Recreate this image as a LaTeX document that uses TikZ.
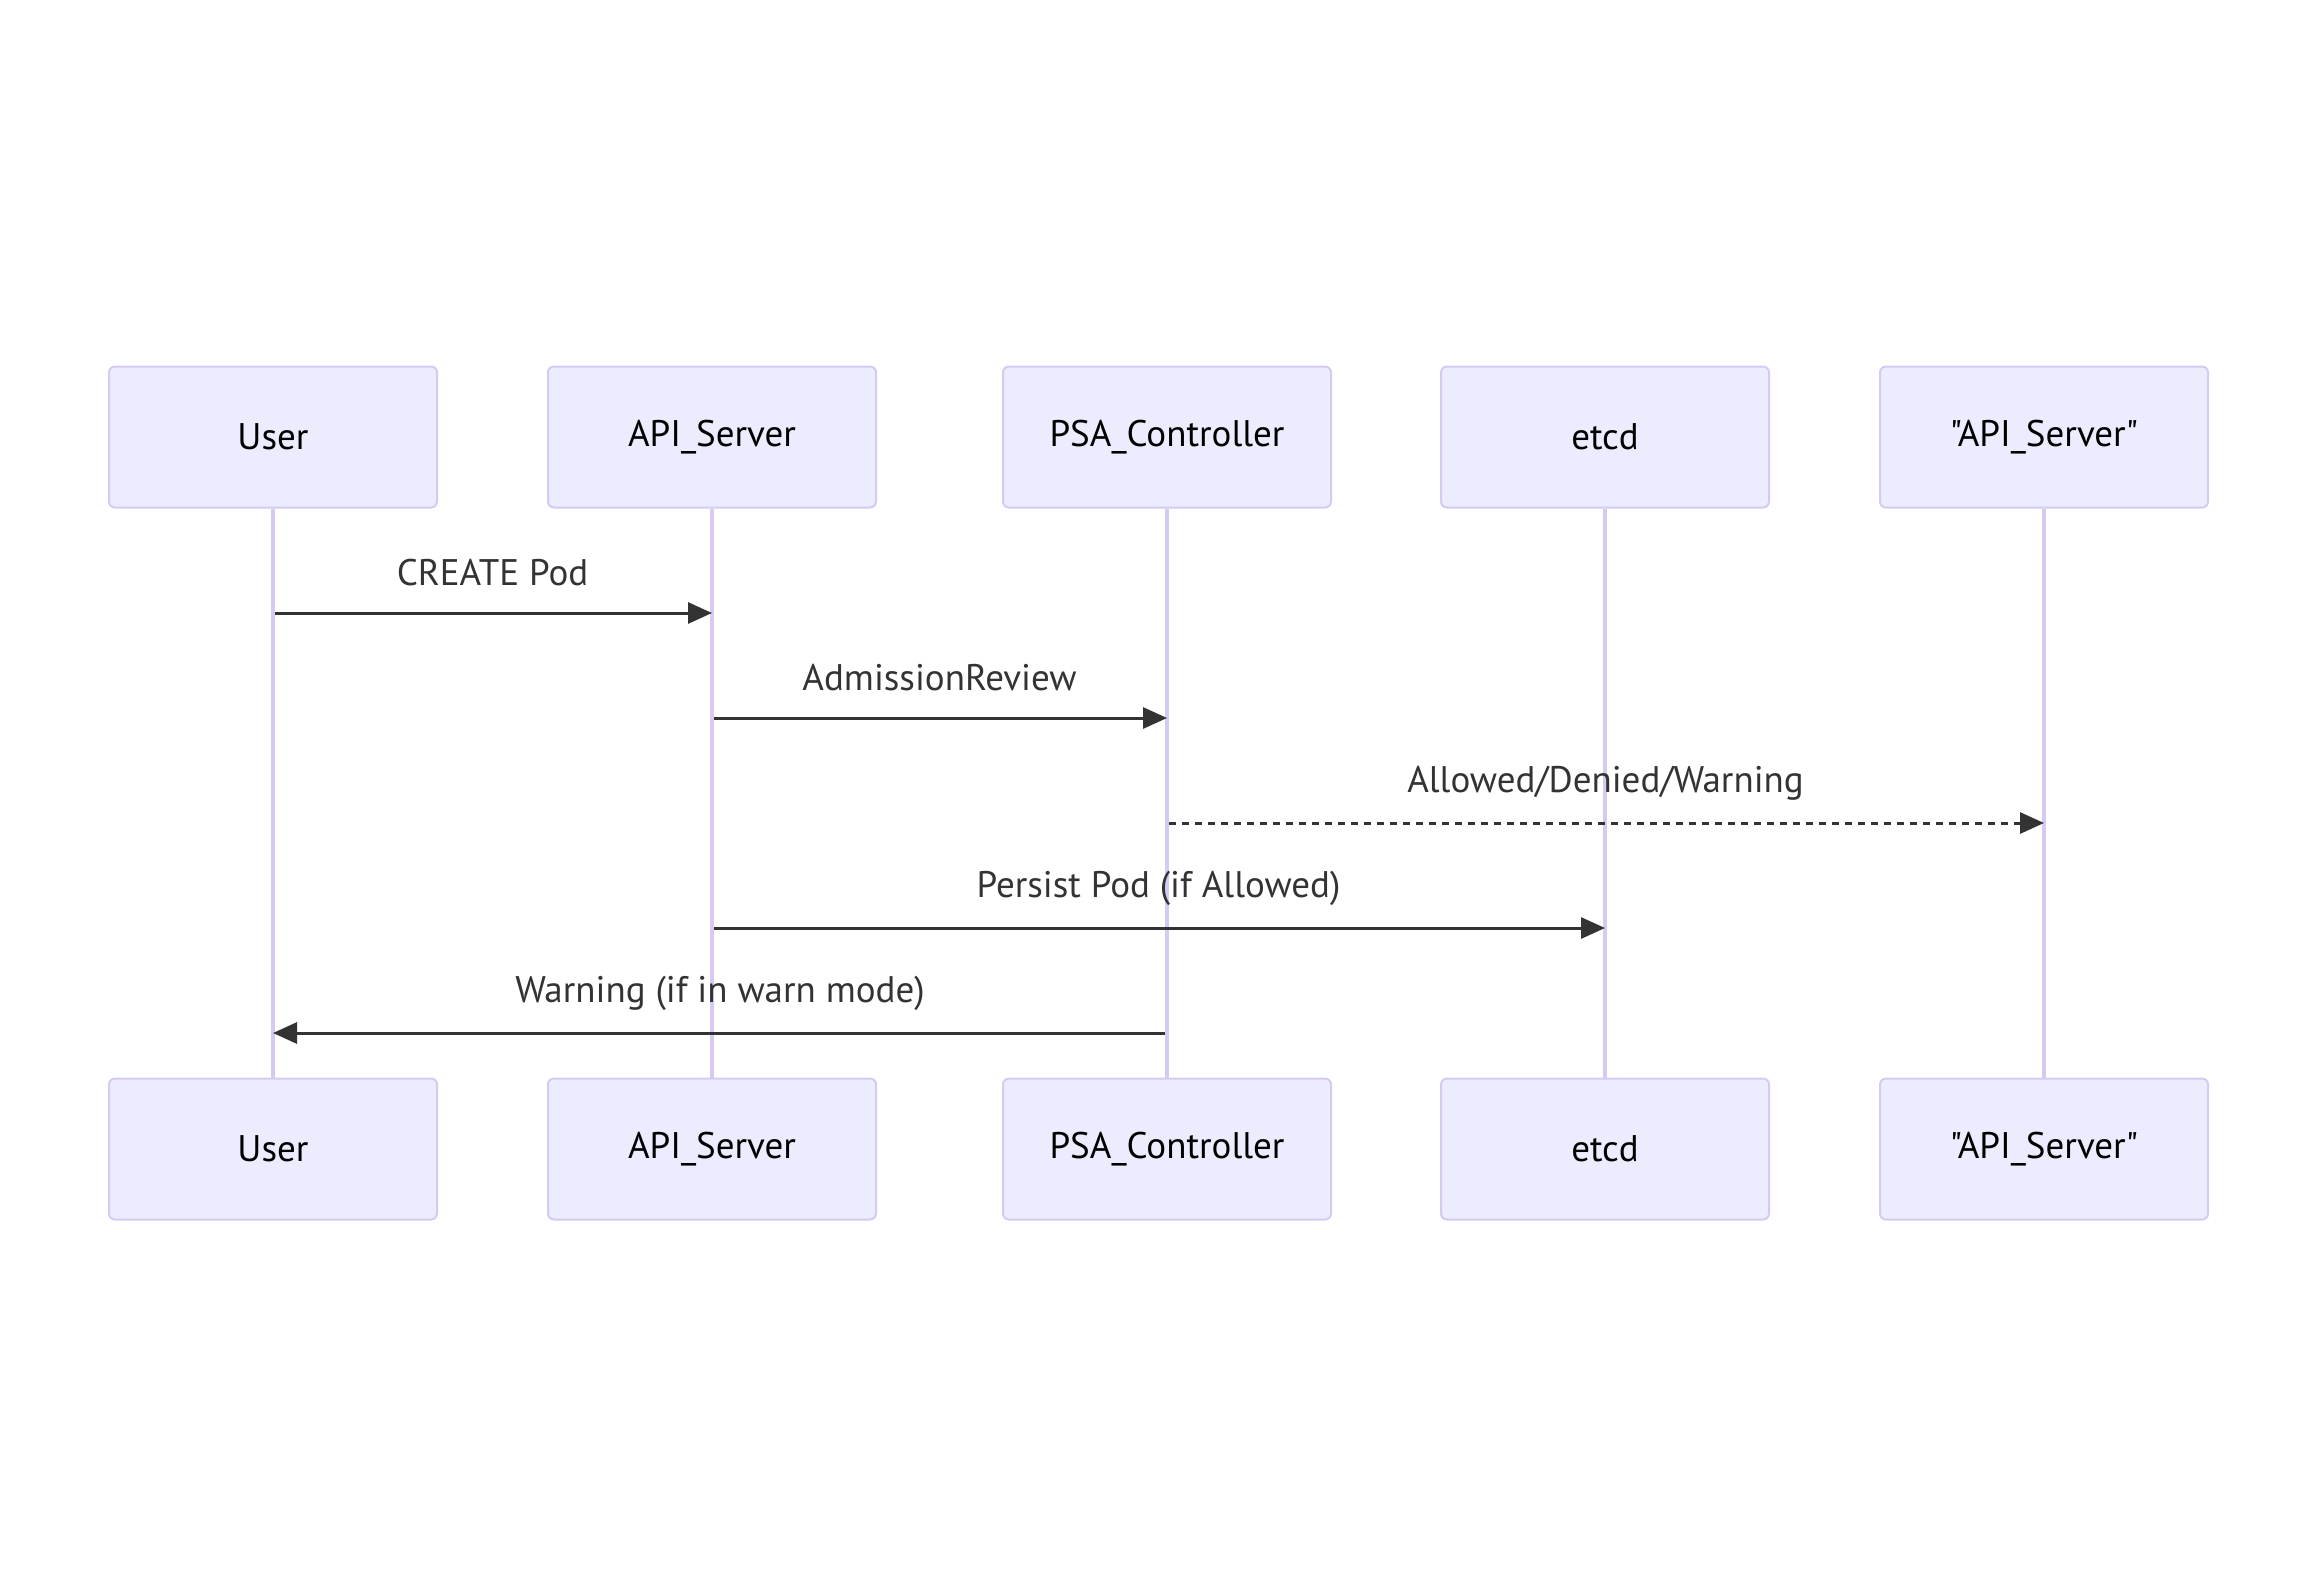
\documentclass[tikz,border=0pt]{standalone}
\usepackage{fontspec}
\setmainfont{PT Sans}[Ligatures=TeXOff]
\usetikzlibrary{arrows.meta,calc}
\definecolor{actfill}{HTML}{ECECFF}
\definecolor{actline}{HTML}{D6CAF2}
\definecolor{msgcol}{HTML}{333333}
\tikzset{
  actor/.style={draw=actline, line width=2pt, fill=actfill, rounded corners=6pt,
    minimum width=328pt, minimum height=141pt, inner sep=0pt,
    font=\fontsize{37}{44}\selectfont, text=black},
  lifeline/.style={draw=actline, line width=3.2pt},
  msg/.style={draw=msgcol, line width=3pt, -{Triangle[length=24pt,width=21pt]}},
  dotmsg/.style={msg, dash pattern=on 6.5pt off 6.5pt},
  msglabel/.style={font=\fontsize{37}{44}\selectfont, text=msgcol, inner sep=0pt}
}
\begin{document}
\begin{tikzpicture}[x=1pt,y=-1pt]
\useasboundingbox (0,0) rectangle (2317,1588);
% top actors
\node[actor] (tU) at (273,437) {User};
\node[actor] (tA) at (712,437) {API\_Server};
\node[actor] (tP) at (1167,437) {PSA\_Controller};
\node[actor] (tE) at (1605,437) {etcd};
\node[actor] (tQ) at (2044,437) {"API\_Server"};
% bottom actors
\node[actor] (bU) at (273,1149) {User};
\node[actor] (bA) at (712,1149) {API\_Server};
\node[actor] (bP) at (1167,1149) {PSA\_Controller};
\node[actor] (bE) at (1605,1149) {etcd};
\node[actor] (bQ) at (2044,1149) {"API\_Server"};
% lifelines
\draw[lifeline] (tU.south) -- (bU.north);
\draw[lifeline] (tA.south) -- (bA.north);
\draw[lifeline] (tP.south) -- (bP.north);
\draw[lifeline] (tE.south) -- (bE.north);
\draw[lifeline] (tQ.south) -- (bQ.north);
% message rows
\coordinate (y1) at (0,613);
\coordinate (y2) at (0,718);
\coordinate (y3) at (0,823);
\coordinate (y4) at (0,928);
\coordinate (y5) at (0,1033);
\draw[msg] ([xshift=2pt]tU |- y1) -- (tA |- y1);
\node[msglabel] (l1) at ([yshift=40pt]$(tU |- y1)!0.5!(tA |- y1)$) {CREATE Pod};
\draw[msg] ([xshift=2pt]tA |- y2) -- (tP |- y2);
\node[msglabel] (l2) at ([yshift=40pt]$(tA |- y2)!0.5!(tP |- y2)$) {AdmissionReview};
\draw[dotmsg] ([xshift=2pt]tP |- y3) -- (tQ |- y3);
\node[msglabel] (l3) at ([yshift=40pt]$(tP |- y3)!0.5!(tQ |- y3)$) {Allowed/Denied/Warning};
\draw[msg] ([xshift=2pt]tA |- y4) -- (tE |- y4);
\node[msglabel] (l4) at ([yshift=40pt]$(tA |- y4)!0.5!(tE |- y4)$) {Persist Pod (if Allowed)};
\draw[msg] ([xshift=-2pt]tP |- y5) -- (tU |- y5);
\node[msglabel] (l5) at ([yshift=40pt]$(tU |- y5)!0.5!(tP |- y5)$) {Warning (if in warn mode)};
\end{tikzpicture}
\end{document}
